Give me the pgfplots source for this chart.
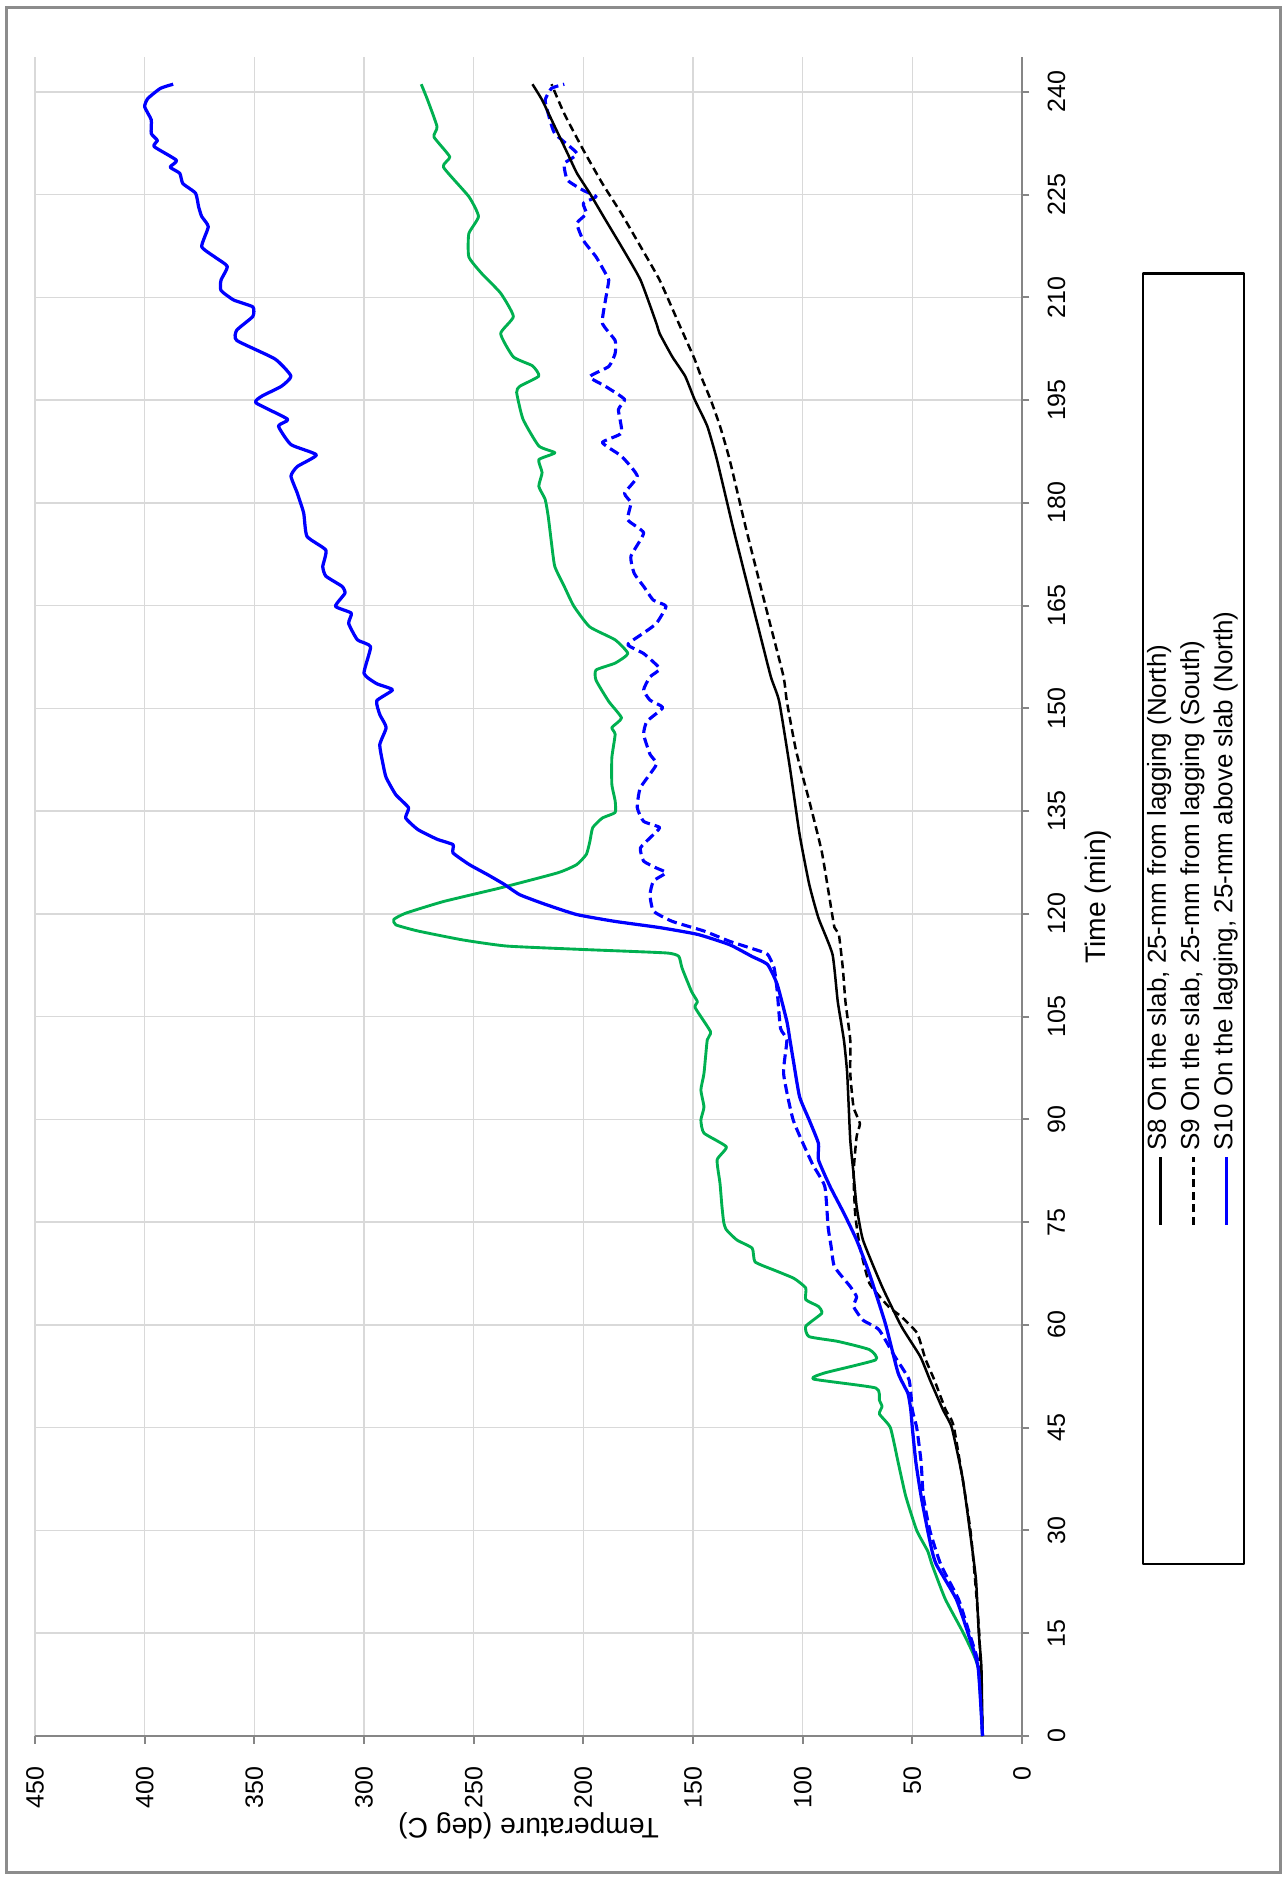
\documentclass[border=0pt]{standalone}
\usepackage{fontspec}
\setmainfont{Liberation Sans}
\usepackage{pgfplots}
\pgfplotsset{compat=1.18}
\definecolor{sgreen}{RGB}{0,176,80}
\definecolor{sblue}{RGB}{0,0,255}
\definecolor{axgray}{RGB}{134,134,134}
\definecolor{grgray}{RGB}{217,217,217}
\definecolor{frgray}{RGB}{140,140,140}
\begin{document}
\begin{tikzpicture}
\begin{scope}[rotate=90, transform shape]
\path (-56.4pt,-106pt) rectangle (694.4pt,408.8pt);
\draw[frgray, line width=1.2pt] (-54.7pt,-103.6pt) rectangle (691.5pt,406.2pt);
\begin{axis}[
  at={(0pt,0pt)}, anchor=origin,
  scale only axis, width=671.4pt, height=394.8pt,
  xmin=0, xmax=245, ymin=0, ymax=450,
  xtick={0,15,...,240}, ytick={0,50,...,450},
  axis lines*=left,
  axis line style={-, draw=axgray, line width=1pt},
  tick align=outside, major tick length=3pt,
  major tick style={draw=axgray, line width=0.8pt},
  grid=major, major grid style={draw=grgray, line width=0.6pt},
  no markers,
  /pgf/number format/assume math mode=true,
  ticklabel style={font=\fontsize{10}{12}\selectfont, inner sep=0pt},
  xticklabel style={anchor=center, yshift=-10.8pt},
  yticklabel style={anchor=east, xshift=-9.2pt},
  every axis x label/.style={at={(axis description cs:0.5,-0.077)}, anchor=center, font=\fontsize{11.3}{13}\selectfont},
  every axis y label/.style={at={(axis description cs:-0.0536,0.5)}, anchor=center, rotate=90, font=\fontsize{11.3}{13}\selectfont},
  xlabel={Time (min)}, ylabel={Temperature (deg C)},
  legend style={at={(axis description cs:0.4869,-0.1738)}, anchor=center, draw=black, fill=white, line width=0.9pt,
    minimum width=516.2pt, minimum height=40.4pt, font=\fontsize{10.4}{12}\selectfont,
    inner sep=0pt, row sep=0pt,
    nodes={minimum width=0pt, minimum height=0pt, inner sep=0pt, text height=8.9pt, text depth=4.4pt},
    /tikz/every odd column/.style={column sep=2pt}},
  legend cell align=left,
  legend image code/.code={\draw[#1] (0pt,0pt) -- (27pt,0pt);},
  line join=round,
]
% green (not in legend)
\addplot[sgreen, line width=1.15pt, smooth, tension=0.3, forget plot] coordinates {
(0,18) (10,20) (15,26.7) (20,35) (25,41) (27,43) (30,48) (35,53) (40,56.5) (45,60) (47,65) (48.1,63.8) (49,65) (50.8,66.7)
(52.1,95.1) (53,89.9) (54.9,66.7) (56.4,69.6) (57.6,84) (58.3,97.1) (59.8,98.6) (61.7,91.3) (62.7,92.8) (63.7,98.6) (65.4,98.6)
(66.8,104) (68,113) (69.2,121.7) (71.2,123) (72.4,130) (73.9,134.8) (75,136) (77.3,136.8) (80.7,137.7) (84.1,139) (86,134.8)
(88,145) (89.9,146.4) (91.8,145) (94.3,146.4) (96.7,145) (101.6,143.5) (102.8,142) (106.3,149) (107.2,148) (108.7,150.7)
(112.1,155) (113.8,156.5) (114.3,162.3) (114.8,200) (115.3,234.8) (116.2,255) (117.5,275.4) (118.4,285.5) (119.2,286.4)
(120.1,281) (121.8,263.8) (123.8,237.7) (126,211.6) (127.2,203) (128.7,198.6) (130.6,197) (132.6,195.7) (134,191.3)
(134.8,185.5) (136.5,185.5) (138.9,187) (142.8,187) (146.2,185.5) (147.2,187) (148.6,182.6) (151,188.4) (154.1,194.2)
(155.6,194.2) (156.6,185.5) (158,179.7) (160,185.5) (161.9,197.1) (164.9,204.3) (167.8,208.7) (170.7,213) (174.1,214.5)
(178,216) (180.5,217.4) (182.4,220.3) (184.4,218.8) (186.3,220.3) (187.3,213) (188.3,220.3) (192.2,227.5) (196.1,230.4)
(197,229) (198.5,220.3) (200,223.2) (201.3,231.9) (204.7,237.7) (207.2,231.9) (210.6,237.7) (213.5,246.4) (215.9,252.2)
(219.3,252.2) (221.8,247.8) (224.7,252.2) (229,263.8) (230.5,260.9) (233.4,268.1) (234.9,266.7) (238.8,271) (241.1,273.9)
};
% blue dashed (not in legend)
\addplot[sblue, line width=1.25pt, smooth, tension=0.3, dash pattern=on 4pt off 2pt, forget plot] coordinates {
(0,18) (10,19.5) (15,24) (20,29) (25,37) (30,42) (35,45) (40,46) (45,48) (47.6,50) (52,51.5) (55.4,58) (59.3,65.2) (60.7,72.5)
(62.7,76.8) (64.1,75.4) (65.6,78.3) (68.5,85.5) (71.4,87) (74.3,88.4) (80.2,89.9) (83.6,95.7) (89.9,104.3) (96.7,108.7)
(101.6,107.2) (103.3,110.1) (108.7,111.6) (112.1,113) (114.1,116) (114.8,121.7) (116,133.3) (117.5,145) (118.9,159.4)
(120.4,168) (122.8,169.6) (124.8,168) (126,162.3) (126.7,166.7) (127.7,172.5) (129.6,174) (131.1,169.6) (132.6,165.2)
(133.5,172.5) (135.5,175.4) (138.4,174) (141.8,166.7) (143.3,169.6) (146.2,172.5) (148.1,171) (150.1,163.8) (151.2,169.6)
(152.7,172.5) (154.6,169.6) (155.8,165.2) (158,172.5) (159.3,179.7) (161,172.5) (162.4,166.7) (164.9,162.3) (165.8,168.1)
(167.8,172.5) (169.7,176.8) (172.2,178.3) (175.6,172.5) (177.5,179.7) (180,178.3) (181.4,181.2) (183.9,175.4) (186.8,182.6)
(188.8,191.3) (190.2,182.6) (193.6,184) (195.1,181.2) (197,189.9) (198.4,197.1) (199.9,188.4) (201.8,185.5) (203.7,185.5)
(206.2,191.3) (209.6,189.9) (212.5,188.4) (213.5,189.9) (215.9,194.2) (218.3,200) (220.8,202.9) (222.2,198.6) (223.7,200)
(224.7,194.2) (225.6,200) (227.1,207.2) (229.5,208.7) (231,202.9) (233.9,213) (236.8,216) (238.8,217.4) (240.5,214.5) (241.1,208.7)
};
% S8
\addplot[black, line width=1pt, smooth, tension=0.3] coordinates {
(0,18) (10,18.5) (15,19.7) (22.9,21) (30,23.8) (37.5,27) (45,32) (47.6,36) (52,42) (55.4,46.4) (59.8,55) (65.6,63.8)
(72.4,72.5) (77.3,75.4) (82.1,76.8) (87,78.3) (96.7,79.7) (101.6,81.2) (107.2,84) (114.1,86.4) (119.4,92.8) (124.3,97)
(131.6,101.4) (141.3,105.8) (151,110.7) (154.6,114.5) (161.9,120.3) (169.2,126.1) (176.6,131.9) (186.3,139.1) (191.2,143.5)
(195.1,149.3) (198.5,153.6) (201.3,159.4) (204.7,165.2) (206.2,166.7) (212.5,173.9) (217.4,182.6) (221.3,189.9)
(225.2,197.1) (228.1,202.9) (231,207.2) (234.9,213) (238.8,218.8) (241.1,223.2)
};
\addlegendentry{S8 On the slab, 25-mm from lagging (North)}
% S9
\addplot[black, line width=1pt, smooth, tension=0.3, dash pattern=on 3.2pt off 1.8pt] coordinates {
(0,18) (15,19.5) (30,23.5) (45,31) (47.6,34.8) (52,40) (55,44) (58.8,47.8) (61.2,55) (62.7,60.9) (66.1,69.6) (71.4,73.9)
(76,76) (82.1,76.8) (87.5,75.4) (89.4,73.9) (91.8,76.8) (96.7,78.3) (101.6,78.3) (107.2,80.5) (112.1,81.7) (117,83.5)
(118,85.5) (121.8,87.5) (129.1,91.3) (136.5,97) (143.8,103) (151,107.2) (154.6,108.7) (161.9,114.5) (169.2,120.3)
(176.6,126.1) (186.3,133.3) (191.2,137.7) (195.1,142) (198.5,146.4) (201,149.3) (206.2,156.5) (212.5,165.2) (217.4,173.9)
(222.2,182.6) (226.6,191.3) (231.5,200) (236.8,208.7) (241.1,214.5)
};
\addlegendentry{S9 On the slab, 25-mm from lagging (South)}
% S10
\addplot[sblue, line width=1.3pt, smooth, tension=0.3] coordinates {
(0,18) (10,20) (15,24.6) (20,30) (25,39) (27,41) (30,43) (35,46) (40,48.4) (45,50) (47.6,50.7) (50,52) (53,56.5) (60.2,62.3)
(67.5,69.6) (72.4,75.4) (76.3,81.2) (80.2,87.5) (84.1,92.8) (86.5,92.8) (89.9,97) (93.3,101.4) (98.7,104.3) (101.6,105.8)
(104.3,107.2) (109.7,111.6) (112.6,116) (113.8,123.2) (115.5,133.3) (117,147.8) (118,165.2) (118.9,185.5) (119.9,203)
(121.4,217.4) (122.8,229) (124.3,236) (125.7,243.5) (127.2,252) (128.9,259.4) (130.1,259.4) (130.9,266.7) (132.3,275.4)
(134,281) (135.5,279.7) (137.4,285.5) (139.9,289.9) (141.8,291.3) (144.7,292.8) (147.2,289.9) (149.1,292.8) (151.1,294.2)
(152.7,287) (153.6,294.2) (155.1,300) (159,297) (160,303) (162.4,307) (163.9,305.8) (164.9,313) (166.8,308.7) (167.8,310)
(169.3,317.4) (170.7,318.8) (173.1,317.4) (175.1,326) (178.5,327.5) (181.4,330.4) (183.9,333.3) (185.3,330.4) (187,321.7)
(188.5,333.3) (191.2,339) (192.2,334.8) (194.6,349.3) (195.6,346.4) (197,337.7) (198.5,333.3) (201,340.6) (203.7,358)
(205.2,358) (207.2,350.7) (208.6,350.7) (209.6,359.4) (211,365.2) (212.5,365.2) (214.5,362.3) (215.9,368.1) (217.4,374)
(220.3,371) (221.8,374) (223.2,375.4) (225.2,376.8) (226.6,382.6) (228.1,384) (229,388.4) (230,385.5) (232,395.7)
(232.9,394.2) (233.9,397) (235.9,397) (237.8,400) (239,398.6) (240.5,392.8) (241.1,387)
};
\addlegendentry{S10 On the lagging, 25-mm above slab (North)}
\end{axis}
\end{scope}
\end{tikzpicture}
\end{document}
